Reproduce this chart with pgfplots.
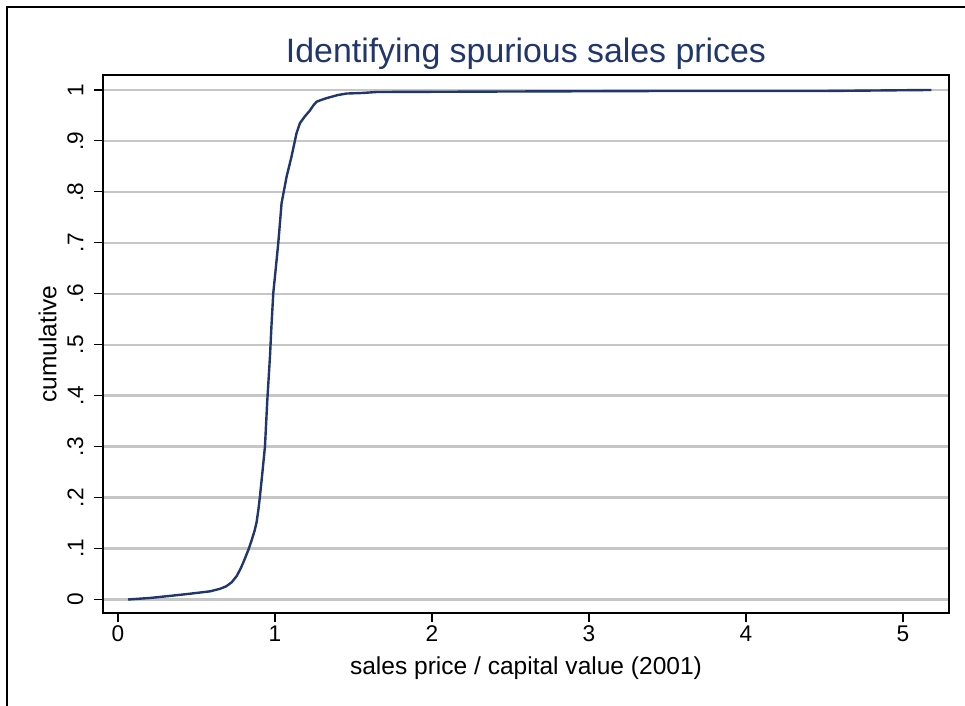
\documentclass[border=0pt]{standalone}
\usepackage{pgfplots}
\pgfplotsset{compat=1.18}
\usepackage{fontspec}
\setmainfont{Liberation Sans}

\definecolor{statanavy}{RGB}{32,54,108}
\definecolor{gridgray}{RGB}{198,198,198}

\begin{document}
\begin{tikzpicture}
% page = 965x706 px, 1px = 0.75pt
\useasboundingbox (0,0) rectangle (723.75pt,529.5pt);
% outer graph frame (only left and top edges are visible)
\draw[line width=1.6pt] (5.25pt,-20pt) -- (5.25pt,524.25pt) -- (760pt,524.25pt);

\begin{axis}[
    at={(77.25pt,69.75pt)}, anchor=south west,
    scale only axis,
    width=634.5pt, height=403.5pt,
    xmin=-0.0955, xmax=5.293,
    ymin=-0.0265, ymax=1.0294,
    xtick={0,1,2,3,4,5},
    ytick={0,0.1,0.2,0.3,0.4,0.5,0.6,0.7,0.8,0.9,1},
    yticklabels={0,.1,.2,.3,.4,.5,.6,.7,.8,.9,1},
    axis line style={line width=1.1pt},
    tick style={black, line width=0.8pt},
    tick align=outside,
    major tick length=7pt,
    xtick pos=bottom, ytick pos=left,
    ymajorgrids,
    grid style={gridgray, line width=1.8pt},
    /pgf/number format/assume math mode=true,
    ticklabel style={font=\fontsize{17}{19}\selectfont},
    xticklabel style={anchor=base, yshift=-14.75pt},
    yticklabel style={xshift=-7.5pt, rotate=90, anchor=south, inner sep=0pt},
    label style={font=\fontsize{18.4}{21}\selectfont},
    xlabel={sales price / capital value (2001)},
    ylabel={cumulative},
    xlabel style={at={(axis description cs:0.5,-0.1152)}, anchor=base, inner sep=0pt},
    ylabel style={at={(axis description cs:-0.0544,0.5)}, anchor=south, inner sep=0pt},
    title={Identifying spurious sales prices},
    title style={at={(axis description cs:0.5,1)}, anchor=base, yshift=3pt,
        inner sep=0pt, font=\fontsize{25.4}{30}\selectfont, text=statanavy},
    clip=false,
]
\addplot[statanavy, line width=1.8pt] coordinates {
(0.064,0) (0.204,0.003) (0.33,0.007) (0.45,0.011) (0.586,0.016)
(0.65,0.021) (0.69,0.026) (0.725,0.034) (0.756,0.046) (0.78,0.060)
(0.80,0.074) (0.83,0.097) (0.85,0.115) (0.87,0.135) (0.883,0.152)
(0.895,0.178) (0.904,0.202) (0.92,0.25) (0.936,0.30) (0.951,0.391)
(0.968,0.477) (0.978,0.54) (0.989,0.601) (1.005,0.65) (1.021,0.70)
(1.042,0.778) (1.074,0.830) (1.105,0.869) (1.137,0.915) (1.159,0.935)
(1.19,0.948) (1.223,0.960) (1.245,0.970) (1.265,0.977) (1.30,0.981)
(1.329,0.984) (1.40,0.990) (1.456,0.993) (1.55,0.994) (1.648,0.996)
(2.5,0.997) (3.5,0.998) (4.5,0.998) (5.18,1.0)
};
\end{axis}
\end{tikzpicture}
\end{document}
